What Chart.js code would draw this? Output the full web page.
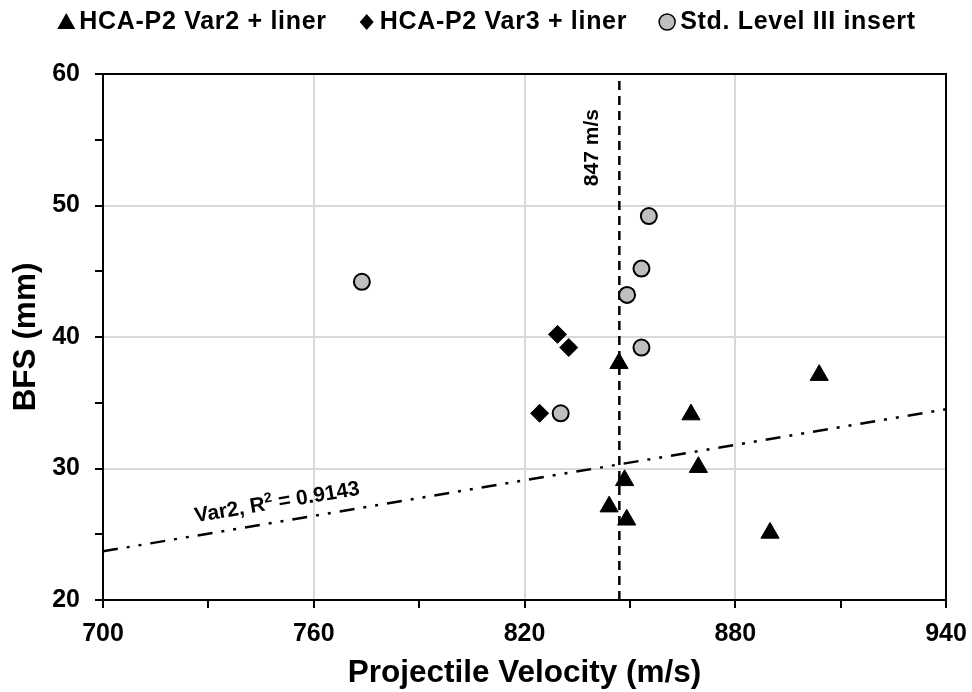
<!DOCTYPE html>
<html><head><meta charset="utf-8">
<script src="https://cdn.jsdelivr.net/npm/chart.js@4/dist/chart.umd.min.js"></script>
<style>html,body{margin:0;padding:0;background:#fff}#wrap{width:972px;height:692px}</style>
</head><body><div id="wrap"><canvas id="c" width="972" height="692"></canvas></div>
<script>
const FONT = '"Liberation Sans", Arial, Helvetica, sans-serif';

const seriesNames = ['HCA-P2 Var2 + liner', 'HCA-P2 Var3 + liner', 'Std. Level III insert'];

const var2Velocity = [846.9, 867.4, 869.5, 848.5, 844.1, 849.1, 903.9, 889.9];
const var2BFS      = [38.0, 34.1, 30.1, 29.1, 27.1, 26.1, 37.1, 25.1];

const var3Velocity = [829.4, 832.6, 824.3];
const var3BFS      = [40.2, 39.2, 34.2];

const stdVelocity  = [855.4, 853.3, 849.2, 853.3, 830.3, 773.7];
const stdBFS       = [49.2, 45.2, 43.2, 39.2, 34.2, 44.2];

const trendVelocity = [700, 940];
const trendBFS      = [23.7, 34.5];
const trendLabelParts = ['Var2, R', '2', ' = 0.9143'];

const refVelocity = 847;
const refLabel    = '847 m/s';

const xTickLabels = ['700', '760', '820', '880', '940'];
const yTickLabels = ['20', '30', '40', '50', '60'];

function pts(xs, ys) { return xs.map((x, i) => ({ x: x, y: ys[i] })); }

const annotationPlugin = {
  id: 'annot',
  afterDatasetsDraw(chart) {
    const ctx = chart.ctx, a = chart.chartArea;
    const xs = chart.scales.x, ys = chart.scales.y;
    ctx.save();
    // top/right border
    ctx.strokeStyle = '#000'; ctx.lineWidth = 2;
    ctx.beginPath();
    ctx.moveTo(a.left, a.top); ctx.lineTo(a.right, a.top); ctx.lineTo(a.right, a.bottom);
    ctx.stroke();
    // 847 label
    ctx.fillStyle = '#000';
    ctx.font = 'bold 21px ' + FONT;
    ctx.textAlign = 'center'; ctx.textBaseline = 'middle';
    ctx.save();
    ctx.translate(xs.getPixelForValue(refVelocity) - 27, ys.getPixelForValue(54.4));
    ctx.rotate(-Math.PI / 2);
    ctx.fillText(refLabel, 0, 0);
    ctx.restore();
    // trend label (with superscript)
    const x1 = xs.getPixelForValue(trendVelocity[0]), y1 = ys.getPixelForValue(trendBFS[0]);
    const x2 = xs.getPixelForValue(trendVelocity[1]), y2 = ys.getPixelForValue(trendBFS[1]);
    const ang = Math.atan2(y2 - y1, x2 - x1);
    const lx = 750.5;
    const t = (lx - trendVelocity[0]) / (trendVelocity[1] - trendVelocity[0]);
    const ly = trendBFS[0] + t * (trendBFS[1] - trendBFS[0]);
    const px = xs.getPixelForValue(lx), py = ys.getPixelForValue(ly);
    const d = 19;
    ctx.save();
    ctx.translate(px + Math.sin(ang) * d, py - Math.cos(ang) * d);
    ctx.rotate(ang);
    const mainF = 'bold 21px ' + FONT, supF = 'bold 14px ' + FONT;
    ctx.font = mainF; const w0 = ctx.measureText(trendLabelParts[0]).width, w2 = ctx.measureText(trendLabelParts[2]).width;
    ctx.font = supF; const w1 = ctx.measureText(trendLabelParts[1]).width;
    let tx = -(w0 + w1 + w2) / 2;
    ctx.textAlign = 'left';
    ctx.font = mainF; ctx.fillText(trendLabelParts[0], tx, 0); tx += w0;
    ctx.font = supF; ctx.fillText(trendLabelParts[1], tx, -6); tx += w1;
    ctx.font = mainF; ctx.fillText(trendLabelParts[2], tx, 0);
    ctx.restore();
    // legend
    ctx.font = 'bold 25px ' + FONT;
    if ('letterSpacing' in ctx) ctx.letterSpacing = '0.7px';
    ctx.textAlign = 'left';
    const ly0 = 22, markW = 20, gapMT = 3, gapItems = 30;
    const widths = seriesNames.map(n => ctx.measureText(n).width);
    const total = widths.reduce((s, w) => s + markW + gapMT + w, 0) + gapItems * 2;
    let cx = (chart.width - total) / 2;
    seriesNames.forEach((n, i) => {
      const mx = cx + markW / 2;
      ctx.beginPath();
      ctx.fillStyle = '#000'; ctx.strokeStyle = '#000'; ctx.lineWidth = 1.5;
      if (i === 0) {
        ctx.moveTo(mx, ly0 - 9); ctx.lineTo(mx + 9, ly0 + 7); ctx.lineTo(mx - 9, ly0 + 7); ctx.closePath(); ctx.fill();
      } else if (i === 1) {
        ctx.moveTo(mx, ly0 - 8); ctx.lineTo(mx + 7, ly0); ctx.lineTo(mx, ly0 + 8); ctx.lineTo(mx - 7, ly0); ctx.closePath(); ctx.fill();
      } else {
        ctx.arc(mx, ly0, 8, 0, Math.PI * 2); ctx.fillStyle = '#bfbfbf'; ctx.fill(); ctx.stroke();
      }
      ctx.fillStyle = '#000';
      ctx.fillText(n, cx + markW + gapMT, ly0);
      cx += markW + gapMT + widths[i] + gapItems;
    });
    ctx.restore();
  }
};

new Chart(document.getElementById('c'), {
  type: 'scatter',
  data: {
    datasets: [
      { label: seriesNames[0], data: pts(var2Velocity, var2BFS), pointStyle: 'triangle', pointRadius: 10.5,
        backgroundColor: '#000', borderColor: '#000', borderWidth: 1 },
      { label: seriesNames[1], data: pts(var3Velocity, var3BFS), pointStyle: 'rectRot', pointRadius: 9,
        backgroundColor: '#000', borderColor: '#000', borderWidth: 1 },
      { label: seriesNames[2], data: pts(stdVelocity, stdBFS), pointStyle: 'circle', pointRadius: 8,
        backgroundColor: '#bfbfbf', borderColor: '#000', borderWidth: 2 },
      { label: 'ref', type: 'line', data: [{ x: refVelocity, y: 20 }, { x: refVelocity, y: 60 }],
        borderColor: '#000', borderWidth: 2.5, borderDash: [9, 6], pointRadius: 0, fill: false },
      { label: 'trend', type: 'line', data: pts(trendVelocity, trendBFS),
        borderColor: '#000', borderWidth: 2.5, borderDash: [15, 9, 3, 9, 3, 9], pointRadius: 0, fill: false }
    ]
  },
  options: {
    responsive: false, animation: false,
    layout: { padding: { top: 74, right: 26, left: 0, bottom: 0 } },
    plugins: { legend: { display: false }, tooltip: { enabled: false } },
    scales: {
      x: {
        type: 'linear', min: 700, max: 940,
        afterFit(s) { s.height = 92; s.paddingLeft = 0; s.paddingRight = 0; },
        ticks: { stepSize: 30, autoSkip: false, maxRotation: 0, padding: 11, color: '#000',
          font: { family: FONT, size: 25, weight: 'bold' },
          callback: v => xTickLabels.includes(String(v)) ? String(v) : '' },
        grid: { color: c => (c.tick && xTickLabels.includes(String(c.tick.value))) ? '#d9d9d9' : 'rgba(0,0,0,0)',
          lineWidth: 2, tickColor: '#000', tickLength: 8, tickWidth: 2 },
        border: { color: '#000', width: 2 },
        title: { display: true, text: 'Projectile Velocity (m/s)', color: '#000',
          font: { family: FONT, size: 31.5, weight: 'bold' }, padding: { top: 0, bottom: 0 } }
      },
      y: {
        type: 'linear', min: 20, max: 60,
        afterFit(s) { s.width = 103; s.paddingTop = 0; s.paddingBottom = 0; },
        ticks: { stepSize: 5, autoSkip: false, padding: 15, color: '#000',
          font: { family: FONT, size: 25, weight: 'bold' },
          callback: v => yTickLabels.includes(String(v)) ? String(v) : '' },
        grid: { color: c => (c.tick && yTickLabels.includes(String(c.tick.value))) ? '#d9d9d9' : 'rgba(0,0,0,0)',
          lineWidth: 2, tickColor: '#000', tickLength: 8, tickWidth: 2 },
        border: { color: '#000', width: 2 },
        title: { display: true, text: 'BFS (mm)', color: '#000',
          font: { family: FONT, size: 31.5, weight: 'bold' }, padding: { top: 7, bottom: 0 } }
      }
    }
  },
  plugins: [annotationPlugin]
});
</script>
</body></html>
